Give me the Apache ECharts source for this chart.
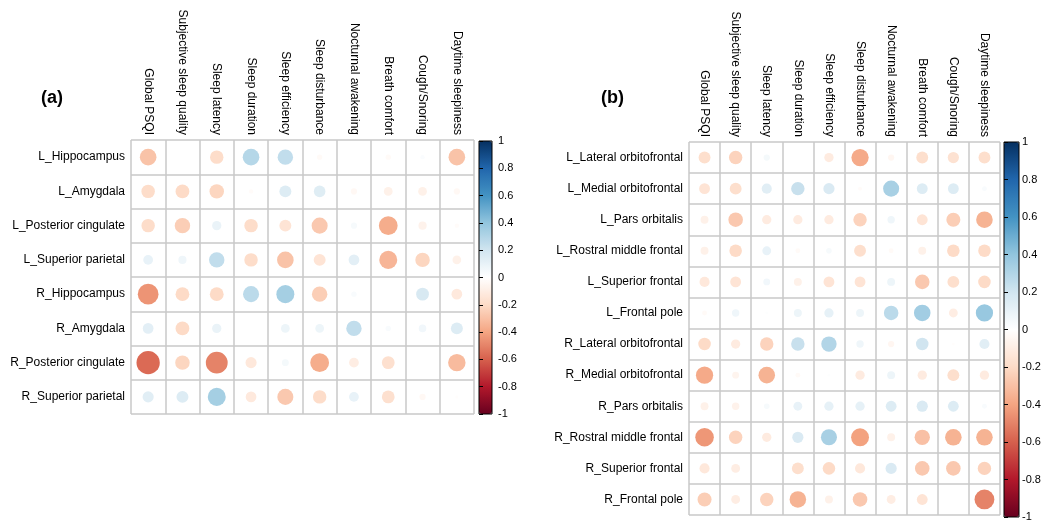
<!DOCTYPE html>
<html>
<head>
<meta charset="utf-8">
<script src="https://cdn.jsdelivr.net/npm/echarts@6/dist/echarts.min.js"></script>
<style>
  html, body { margin: 0; padding: 0; background: #fff; }
  #main { width: 1050px; height: 529px; }
</style>
</head>
<body>
<div id="main"></div>
<script>
// sleep items (columns, same for both panels)
const sleepItems = [
  'Global PSQI', 'Subjective sleep quality', 'Sleep latency', 'Sleep duration',
  'Sleep efficiency', 'Sleep disturbance', 'Nocturnal awakening', 'Breath comfort',
  'Cough/Snoring', 'Daytime sleepiness'
];

// panel (a) regions
const regionsA = [
  'L_Hippocampus', 'L_Amygdala', 'L_Posterior cingulate', 'L_Superior parietal',
  'R_Hippocampus', 'R_Amygdala', 'R_Posterior cingulate', 'R_Superior parietal'
];
const corrA = [
  [-0.29, 0, -0.19, 0.29, 0.25, -0.03, 0, -0.03, 0.02, -0.29],
  [-0.19, -0.2, -0.22, -0.02, 0.15, 0.14, -0.04, -0.08, -0.08, -0.04],
  [-0.19, -0.25, 0.09, -0.19, -0.15, -0.27, 0.04, -0.37, -0.07, -0.02],
  [0.1, 0.07, 0.25, -0.19, -0.29, -0.15, 0.12, -0.34, -0.22, -0.08],
  [-0.45, -0.2, -0.2, 0.27, 0.34, -0.25, 0.03, 0, 0.17, -0.12],
  [0.12, -0.2, 0.09, 0, 0.08, 0.08, 0.25, 0.03, 0.06, 0.15],
  [-0.57, -0.22, -0.5, -0.13, 0.05, -0.37, -0.1, -0.17, 0, -0.32],
  [0.13, 0.15, 0.34, -0.12, -0.27, -0.19, 0.1, -0.17, -0.04, -0.01]
];

// panel (b) regions
const regionsB = [
  'L_Lateral orbitofrontal', 'L_Medial orbitofrontal', 'L_Pars orbitalis',
  'L_Rostral middle frontal', 'L_Superior frontal', 'L_Frontal pole',
  'R_Lateral orbitofrontal', 'R_Medial orbitofrontal', 'R_Pars orbitalis',
  'R_Rostral middle frontal', 'R_Superior frontal', 'R_Frontal pole'
];
const corrB = [
  [-0.18, -0.23, 0.05, 0, -0.11, -0.38, -0.05, -0.18, -0.16, -0.18],
  [-0.15, -0.18, 0.13, 0.23, 0.16, -0.02, 0.33, 0.15, 0.15, 0.03],
  [-0.08, -0.27, -0.11, -0.11, -0.11, -0.23, 0.07, -0.15, -0.25, -0.35],
  [-0.08, -0.2, 0.1, -0.03, 0.04, -0.18, -0.03, -0.08, -0.2, -0.2],
  [-0.13, -0.15, 0.06, -0.08, -0.15, -0.15, 0.08, -0.27, -0.18, -0.2],
  [-0.03, 0.07, 0.01, 0.08, 0.11, 0.08, 0.27, 0.35, -0.1, 0.38],
  [-0.2, -0.11, -0.23, 0.23, 0.3, 0.07, -0.05, 0.2, -0.01, 0.13],
  [-0.38, -0.06, -0.35, -0.03, 0.01, -0.11, 0.08, -0.11, -0.18, -0.11],
  [-0.08, -0.07, 0.04, 0.1, 0.11, 0.11, 0.15, 0.16, 0.15, 0.03],
  [-0.44, -0.23, -0.11, 0.16, 0.33, -0.41, -0.08, -0.3, -0.35, -0.35],
  [-0.13, -0.1, 0, -0.18, -0.2, -0.13, 0.16, -0.27, -0.27, -0.23],
  [-0.25, -0.1, -0.23, -0.35, -0.08, -0.27, -0.1, -0.15, 0, -0.5]
];

// colour bar ticks
const barTicks = [1, 0.8, 0.6, 0.4, 0.2, 0, -0.2, -0.4, -0.6, -0.8, -1];

// corrplot RdBu palette, from -1 to 1
const rdbu = ['#67001F', '#B2182B', '#D6604D', '#F4A582', '#FDDBC7', '#FFFFFF',
  '#D1E5F0', '#92C5DE', '#4393C3', '#2166AC', '#053061'];

const FONT = 'Liberation Sans, Arial, sans-serif';
const gridLine = { color: '#c8c8c8', width: 1.5 };

// layout
const gA = { left: 131, top: 140, width: 343, height: 274 };
const gB = { left: 689, top: 142, width: 311, height: 373 };
const cbA = { left: 479, top: 141, width: 13, height: 273 };
const cbB = { left: 1004, top: 142, width: 15, height: 375 };
const cellA = gA.width / sleepItems.length;
const cellB = gB.width / sleepItems.length;

function toPoints(mat) {
  const out = [];
  mat.forEach((row, ri) => {
    row.forEach((v, ci) => out.push([ci, ri, v]));
  });
  return out;
}

function catX(idx) {
  return {
    type: 'category', gridIndex: idx, data: sleepItems, position: 'top',
    axisLine: { show: false }, axisTick: { show: false },
    axisLabel: { interval: 0, rotate: 90, margin: 5, color: '#000', fontSize: 12, fontFamily: FONT },
    splitLine: { show: true, interval: 0, lineStyle: gridLine }
  };
}
function catY(idx, rows) {
  return {
    type: 'category', gridIndex: idx, data: rows, inverse: true,
    axisLine: { show: false }, axisTick: { show: false },
    axisLabel: { interval: 0, margin: 6, color: '#000', fontSize: 12, fontFamily: FONT },
    splitLine: { show: true, interval: 0, lineStyle: gridLine }
  };
}
function barY(idx, margin) {
  return {
    type: 'value', gridIndex: idx, min: -1, max: 1, interval: 0.2, position: 'right',
    axisLine: { show: false },
    axisTick: { show: true, length: 4, lineStyle: { color: '#000', width: 1 } },
    axisLabel: {
      margin: margin, color: '#000', fontSize: 11, fontFamily: FONT,
      formatter: v => String(barTicks.find(t => Math.abs(t - v) < 1e-6) ?? '')
    },
    splitLine: { show: false }, z: 10
  };
}

const chart = echarts.init(document.getElementById('main'), null, { renderer: 'canvas' });

chart.setOption({
  backgroundColor: '#fff',
  animation: false,
  title: [
    { text: '(a)', left: 36, top: 84, textStyle: { fontSize: 18, fontWeight: 'bold', color: '#000', fontFamily: FONT } },
    { text: '(b)', left: 596, top: 84, textStyle: { fontSize: 18, fontWeight: 'bold', color: '#000', fontFamily: FONT } }
  ],
  grid: [
    Object.assign({}, gA),
    Object.assign({}, gB),
    Object.assign({ show: true, borderColor: '#000', borderWidth: 1, backgroundColor: 'transparent', z: 10 }, cbA),
    Object.assign({ show: true, borderColor: '#000', borderWidth: 1, backgroundColor: 'transparent', z: 10 }, cbB)
  ],
  xAxis: [
    catX(0), catX(1),
    { type: 'value', gridIndex: 2, show: false },
    { type: 'value', gridIndex: 3, show: false }
  ],
  yAxis: [
    catY(0, regionsA), catY(1, regionsB),
    barY(2, 6), barY(3, 3)
  ],
  visualMap: [
    {
      type: 'continuous', seriesIndex: 0, dimension: 2, min: -1, max: 1,
      calculable: false, hoverLink: false, text: null, padding: 0,
      left: cbA.left, top: cbA.top, itemWidth: cbA.width, itemHeight: cbA.height,
      inRange: { color: rdbu }, z: 1
    },
    {
      type: 'continuous', seriesIndex: 1, dimension: 2, min: -1, max: 1,
      calculable: false, hoverLink: false, text: null, padding: 0,
      left: cbB.left, top: cbB.top, itemWidth: cbB.width, itemHeight: cbB.height,
      inRange: { color: rdbu }, z: 1
    }
  ],
  series: [
    {
      type: 'scatter', xAxisIndex: 0, yAxisIndex: 0,
      data: toPoints(corrA),
      symbolSize: val => 0.9 * cellA * Math.sqrt(Math.abs(val[2])),
      itemStyle: { opacity: 1 }
    },
    {
      type: 'scatter', xAxisIndex: 1, yAxisIndex: 1,
      data: toPoints(corrB),
      symbolSize: val => 0.9 * cellB * Math.sqrt(Math.abs(val[2])),
      itemStyle: { opacity: 1 }
    }
  ]
});
</script>
</body>
</html>
